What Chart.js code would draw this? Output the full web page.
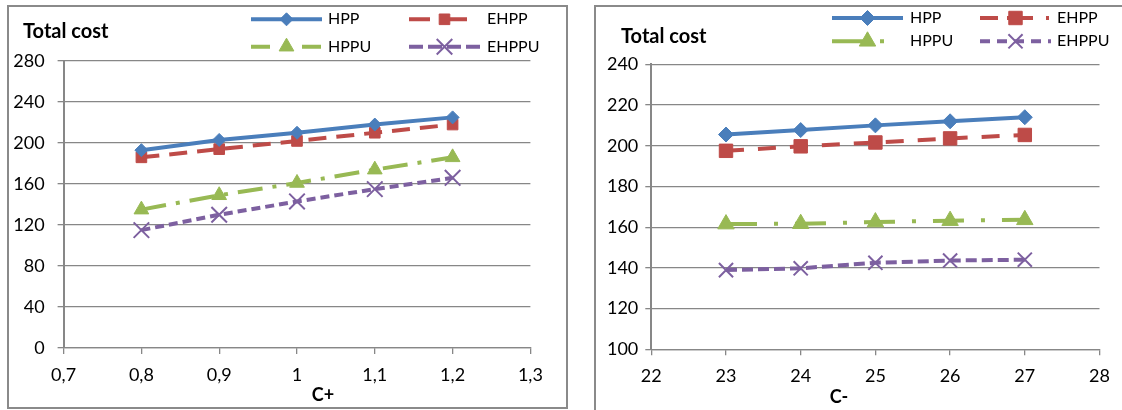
<!DOCTYPE html>
<html>
<head>
<meta charset="utf-8">
<script src="https://cdn.jsdelivr.net/npm/chart.js@4.4.0/dist/chart.umd.min.js"></script>
<style>
  html, body { margin: 0; padding: 0; background: #fff; width: 1122px; height: 410px; overflow: hidden; }
  .panel { position: absolute; border: 2px solid #8a8a8a; overflow: hidden; background: #fff; }
  #p1 { left: 7px; top: 5px; width: 557px; height: 400px; }
  #p2 { left: 594px; top: 5px; width: 540px; height: 410px; }
  canvas { display: block; }
</style>
</head>
<body>
<div class="panel" id="p1"><canvas id="c1" width="557" height="400"></canvas></div>
<div class="panel" id="p2"><canvas id="c2" width="540" height="410"></canvas></div>
<script>
// Series names
const seriesNames = ['HPP', 'EHPP', 'HPPU', 'EHPPU'];

// Total cost against C+
const cPlus = [0.8, 0.9, 1.0, 1.1, 1.2];
const hppPlus = [193, 203, 210, 218, 225];
const ehppPlus = [186, 194, 202, 210, 218];
const hppuPlus = [135, 149, 161, 174, 186];
const ehppuPlus = [115, 130, 143, 155, 166];
const cPlusTicks = ['0,7', '0,8', '0,9', '1', '1,1', '1,2', '1,3'];
const costTicksPlus = ['0', '40', '80', '120', '160', '200', '240', '280'];

// Total cost against C-
const cMinus = [23, 24, 25, 26, 27];
const hppMinus = [205.5, 207.7, 210, 212, 214];
const ehppMinus = [197.5, 199.7, 201.6, 203.6, 205.3];
const hppuMinus = [161.5, 161.7, 162.5, 163.2, 163.6];
const ehppuMinus = [138.9, 139.8, 142.5, 143.6, 144];
const cMinusTicks = ['22', '23', '24', '25', '26', '27', '28'];
const costTicksMinus = ['100', '120', '140', '160', '180', '200', '220', '240'];

const COLORS = ['#4A7EBB', '#BE4B48', '#98B954', '#7D60A0'];
const GRID = '#878787';
const FONT = 'Lato, "Open Sans", sans-serif';

const pts = (xs, ys) => xs.map((x, i) => ({ x: x, y: ys[i] }));

function series(name, color, xs, ys, style) {
  return Object.assign({
    label: name,
    data: pts(xs, ys),
    borderColor: color,
    backgroundColor: color,
    pointBackgroundColor: color,
    pointBorderColor: color,
    borderWidth: 4,
    borderCapStyle: 'butt',
    tension: 0,
    fill: false,
    pointBorderWidth: 1,
    pointHoverRadius: 0
  }, style);
}

// Legend, heading and axis caption painted onto the chart canvas
const panelText = {
  id: 'panelText',
  afterDraw(chart, args, o) {
    const ctx = chart.ctx;
    ctx.save();
    ctx.fillStyle = '#000';
    ctx.textBaseline = 'middle';
    ctx.font = 'bold 20px ' + FONT;
    ctx.textAlign = 'left';
    ctx.fillText(o.heading, o.headingX, o.headingY);
    ctx.font = 'bold 18px ' + FONT;
    ctx.textAlign = 'center';
    ctx.fillText(o.caption, o.captionX, o.captionY);

    chart.data.datasets.forEach((ds, i) => {
      const s = o.slots[i];
      ctx.save();
      ctx.strokeStyle = ds.borderColor;
      ctx.lineWidth = 4;
      ctx.lineCap = 'butt';
      ctx.setLineDash(ds.legendDash || ds.borderDash || []);
      ctx.beginPath();
      ctx.moveTo(s.x0, s.y);
      ctx.lineTo(s.x1, s.y);
      ctx.stroke();
      ctx.setLineDash([]);
      ctx.fillStyle = ds.pointBackgroundColor;
      ctx.strokeStyle = ds.pointBorderColor;
      ctx.lineWidth = ds.pointBorderWidth;
      Chart.helpers.drawPoint(ctx, {
        pointStyle: ds.pointStyle,
        radius: ds.legendRadius || ds.pointRadius,
        rotation: 0,
        borderWidth: ds.pointBorderWidth
      }, (s.x0 + s.x1) / 2, s.y);
      ctx.restore();
      ctx.fillStyle = '#000';
      ctx.font = '16px ' + FONT;
      ctx.textAlign = 'left';
      ctx.textBaseline = 'middle';
      ctx.fillText(ds.label, s.tx, s.y);
    });
    ctx.restore();
  }
};

function axes(xMin, xMax, xStep, xLabels, yMin, yMax, yStep, yLabels, yWidth, xHeight, yPad) {
  return {
    x: {
      type: 'linear', min: xMin, max: xMax,
      ticks: {
        stepSize: xStep, color: '#000', padding: 10,
        font: { family: FONT, size: 18 },
        maxRotation: 0, autoSkip: false,
        callback: (v, i) => xLabels[i]
      },
      grid: { drawOnChartArea: false, drawTicks: true, tickLength: 6, color: GRID, lineWidth: 1.3 },
      border: { display: true, color: GRID, width: 1.3 },
      afterFit(s) { s.height = xHeight; s.paddingLeft = 0; s.paddingRight = 0; }
    },
    y: {
      type: 'linear', min: yMin, max: yMax,
      ticks: {
        stepSize: yStep, color: '#000', padding: yPad,
        font: { family: FONT, size: 18 },
        callback: (v, i) => yLabels[i]
      },
      grid: { color: GRID, lineWidth: 1.3, tickLength: 6, drawTicks: true },
      border: { display: true, color: GRID, width: 2 },
      afterFit(s) { s.width = yWidth; s.paddingTop = 0; s.paddingBottom = 0; }
    }
  };
}

function build() {
  new Chart(document.getElementById('c1'), {
    type: 'line',
    data: {
      datasets: [
        series(seriesNames[0], COLORS[0], cPlus, hppPlus, { pointStyle: 'rectRot', pointRadius: 6.5 }),
        series(seriesNames[1], COLORS[1], cPlus, ehppPlus, { pointStyle: 'rect', pointRadius: 7.5, borderDash: [18, 10], legendDash: [21, 16] }),
        series(seriesNames[2], COLORS[2], cPlus, hppuPlus, { pointStyle: 'triangle', pointRadius: 8.5, borderDash: [25, 10, 4, 10], legendDash: [19, 32] }),
        series(seriesNames[3], COLORS[3], cPlus, ehppuPlus, { pointStyle: 'crossRot', pointRadius: 11, pointBorderWidth: 2, borderDash: [9, 5], legendDash: [14, 5] })
      ]
    },
    options: {
      responsive: false, animation: false, devicePixelRatio: 1,
      layout: { padding: { left: 0, top: 54, right: 35.6, bottom: 0 } },
      plugins: {
        legend: { display: false }, tooltip: { enabled: false },
        panelText: {
          heading: 'Total cost', headingX: 14, headingY: 25,
          caption: 'C+', captionX: 314, captionY: 388,
          slots: [
            { x0: 242, x1: 313, y: 12.3, tx: 319 },
            { x0: 400, x1: 471, y: 12.3, tx: 478 },
            { x0: 242, x1: 313, y: 39.7, tx: 319 },
            { x0: 400, x1: 471, y: 39.7, tx: 478 }
          ]
        }
      },
      scales: axes(0.7, 1.3, 0.1, cPlusTicks, 0, 280, 40, costTicksPlus, 54.6, 59, 13)
    },
    plugins: [panelText]
  });

  new Chart(document.getElementById('c2'), {
    type: 'line',
    data: {
      datasets: [
        series(seriesNames[0], COLORS[0], cMinus, hppMinus, { pointStyle: 'rectRot', pointRadius: 7.5 }),
        series(seriesNames[1], COLORS[1], cMinus, ehppMinus, { pointStyle: 'rect', pointRadius: 9.5, borderDash: [18, 14], legendDash: [18, 9, 26, 13, 3, 20] }),
        series(seriesNames[2], COLORS[2], cMinus, hppuMinus, { pointStyle: 'triangle', pointRadius: 9.5, borderDash: [31, 17, 4, 17], legendDash: [31, 17, 4, 30] }),
        series(seriesNames[3], COLORS[3], cMinus, ehppuMinus, { pointStyle: 'crossRot', pointRadius: 10, pointBorderWidth: 2, borderDash: [11, 5], legendDash: [10, 7] })
      ]
    },
    options: {
      responsive: false, animation: false, devicePixelRatio: 1,
      layout: { padding: { left: 0, top: 57.3, right: 36.5, bottom: 0 } },
      plugins: {
        legend: { display: false }, tooltip: { enabled: false },
        panelText: {
          heading: 'Total cost', headingX: 25, headingY: 29.7,
          caption: 'C-', captionX: 243, captionY: 389.7,
          slots: [
            { x0: 236, x1: 307, y: 11, tx: 314 },
            { x0: 384, x1: 455, y: 11, tx: 461 },
            { x0: 236, x1: 307, y: 34.3, tx: 314 },
            { x0: 384, x1: 455, y: 34.3, tx: 461 }
          ]
        }
      },
      scales: axes(22, 28, 1, cMinusTicks, 100, 240, 20, costTicksMinus, 55.3, 67.7, 7)
    },
    plugins: [panelText]
  });
}

const ready = (document.fonts && document.fonts.load)
  ? Promise.all([document.fonts.load('18px Lato'), document.fonts.load('bold 18px Lato')]).catch(() => {})
  : Promise.resolve();
ready.then(build);
</script>
</body>
</html>
